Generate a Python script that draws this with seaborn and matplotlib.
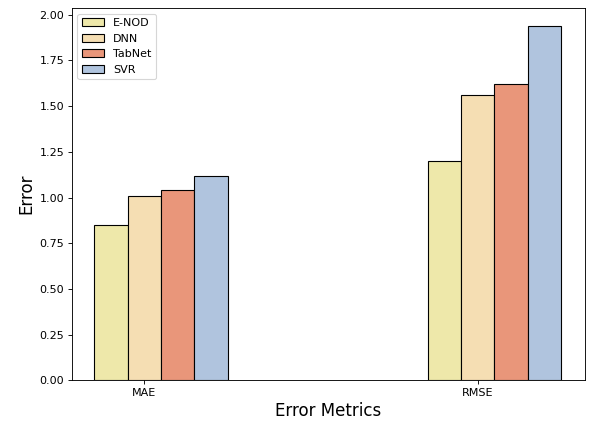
import numpy as np
import pandas as pd
import matplotlib
matplotlib.use("Agg")
import matplotlib.pyplot as plt
import seaborn as sns

metrics = ["MAE", "RMSE"]
models = ["E-NOD", "DNN", "TabNet", "SVR"]
e_nod = [0.85, 1.20]
dnn = [1.01, 1.56]
tabnet = [1.04, 1.62]
svr = [1.12, 1.94]
colors = ["palegoldenrod", "wheat", "darksalmon", "lightsteelblue"]

series = [e_nod, dnn, tabnet, svr]
offsets = [-0.1, 0.0, 0.1, 0.2]
bar_width = 0.1

DPI = 80
fig, ax = plt.subplots(figsize=(589 / DPI, 423 / DPI), dpi=DPI)
positions = np.arange(len(metrics))

for name, vals, off, col in zip(models, series, offsets, colors):
    df = pd.DataFrame({"pos": positions + off, "value": vals})
    sns.barplot(data=df, x="pos", y="value", native_scale=True, width=bar_width,
                color=col, edgecolor="black", linewidth=1.0, saturation=1,
                errorbar=None, label=name, ax=ax)

ax.set_xticks(positions)
ax.set_xticklabels(metrics)
ax.set_xlim(-0.217, 1.321)
ax.set_ylim(0, 2.037)
ax.set_yticks(np.arange(0, 2.01, 0.25))
ax.yaxis.set_major_formatter(matplotlib.ticker.FormatStrFormatter("%.2f"))
ax.set_xlabel("Error Metrics", fontsize=15)
ax.set_ylabel("Error", fontsize=15)
ax.tick_params(labelsize=10)
ax.legend(loc="upper left")

fig.subplots_adjust(left=0.122, right=0.993, top=0.981, bottom=0.101)
fig.savefig("out.png", dpi=DPI)
